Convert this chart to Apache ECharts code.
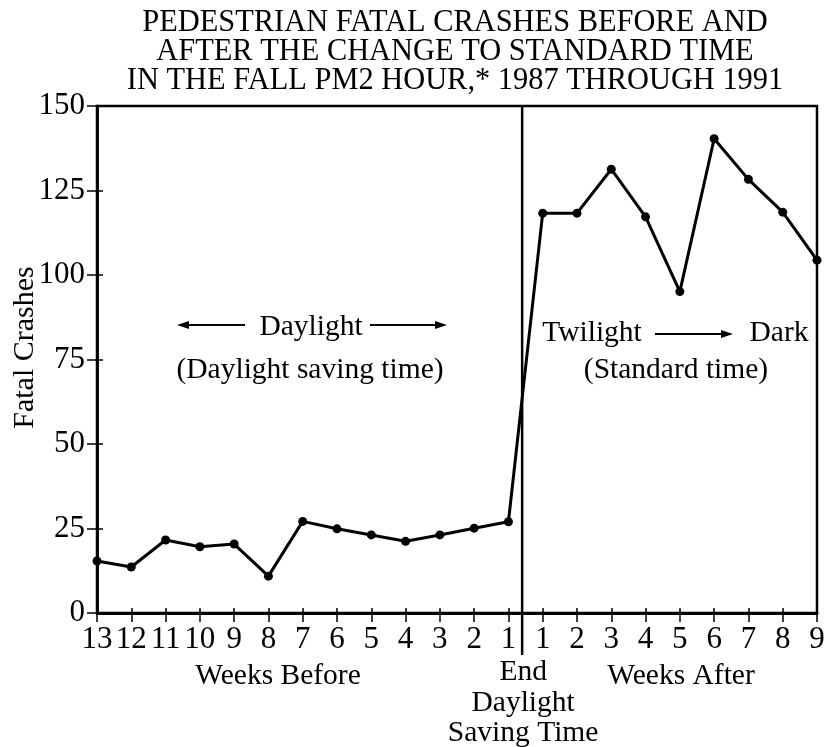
<!DOCTYPE html>
<html>
<head>
<meta charset="utf-8">
<script src="https://cdn.jsdelivr.net/npm/echarts@6/dist/echarts.min.js"></script>
<style>
html,body{margin:0;padding:0;background:#fff;}
#chart{width:825px;height:747px;}
</style>
</head>
<body>
<div id="chart"></div>
<script>
// ---- data ----
const titleLines = [
  'PEDESTRIAN FATAL CRASHES BEFORE AND',
  'AFTER THE CHANGE TO STANDARD TIME',
  'IN THE FALL PM2 HOUR,* 1987 THROUGH 1991'
];
const weekLabelsBefore = ['13','12','11','10','9','8','7','6','5','4','3','2','1'];
const weekLabelsAfter = ['1','2','3','4','5','6','7','8','9'];
const crashesBefore = [15.4,13.6,21.6,19.6,20.4,10.9,27.1,24.9,23.1,21.2,23.1,25.1,27.0];
const crashesAfter = [118.3,118.3,131.3,117.2,95.1,140.3,128.3,118.6,104.4];
const yTicks = [0,25,50,75,100,125,150];
const yAxisName = 'Fatal Crashes';

const FONT = '"Liberation Serif","DejaVu Serif",serif';
const xLabels = weekLabelsBefore.concat(weekLabelsAfter);
const values = crashesBefore.concat(crashesAfter);
const seriesData = values.map((v, i) => [i, v]);

const chart = echarts.init(document.getElementById('chart'), null, {renderer: 'canvas'});

const axisLine = {show: true, lineStyle: {color: '#000', width: 2.5}};
const tickStyle = {color: '#000', width: 1.5};
const baseX = {
  type: 'value', min: 0, max: xLabels.length - 1, interval: 1,
  position: 'bottom',
  axisLine: axisLine,
  splitLine: {show: false}
};
const baseY = {
  type: 'value', min: yTicks[0], max: yTicks[yTicks.length - 1], interval: 25,
  position: 'left',
  axisLine: axisLine,
  splitLine: {show: false}
};

chart.setOption({
  animation: false,
  backgroundColor: '#fff',
  grid: {left: 97, right: 8, top: 106, bottom: 134, containLabel: false, outerBoundsMode: 'none',
         show: true, borderColor: '#000', borderWidth: 2.5, backgroundColor: 'transparent'},
  xAxis: [
    Object.assign({}, baseX, {
      axisTick: {show: true, inside: false, length: 9, lineStyle: tickStyle},
      axisLabel: {
        show: true, margin: 11, color: '#000', fontFamily: FONT, fontSize: 31,
        formatter: v => xLabels[v] !== undefined ? xLabels[v] : ''
      }
    }),
    Object.assign({}, baseX, {
      axisTick: {show: true, inside: true, length: 5, lineStyle: tickStyle},
      axisLabel: {show: false}
    })
  ],
  yAxis: [
    Object.assign({}, baseY, {
      axisTick: {show: true, inside: false, length: 10, lineStyle: tickStyle},
      axisLabel: {color: '#000', fontFamily: FONT, fontSize: 31, margin: 12},
      name: yAxisName, nameLocation: 'middle', nameGap: 57, nameRotate: 90, nameMoveOverlap: false,
      nameTextStyle: {color: '#000', fontFamily: FONT, fontSize: 30, padding: [0, 0, 0, 24]}
    }),
    Object.assign({}, baseY, {
      axisTick: {show: true, inside: true, length: 6, lineStyle: tickStyle},
      axisLabel: {show: false}
    })
  ],
  series: [{
    type: 'line',
    data: seriesData,
    xAxisIndex: 0, yAxisIndex: 0,
    symbol: 'circle', symbolSize: 9,
    itemStyle: {color: '#000'},
    lineStyle: {color: '#000', width: 3},
    z: 5
  }]
});

// ---- annotations positioned from the axes ----
const px = (x, y) => chart.convertToPixel({xAxisIndex: 0, yAxisIndex: 0}, [x, y]);
const divX = px(12.4, 0)[0];
const plotTop = px(0, 150)[1];
const plotBottom = px(0, 0)[1];

function txt(text, x, y, size, sx) {
  return {type: 'text', x: x, y: y, scaleX: sx || 1,
    style: {text: text, fill: '#000', font: size + 'px ' + FONT, textAlign: 'center', textVerticalAlign: 'middle'}};
}
function arrow(x1, x2, y) {
  const dir = x2 > x1 ? 1 : -1;
  const hl = 12, hw = 4;
  return [
    {type: 'line', shape: {x1: x1, y1: y, x2: x2 - dir * hl * 0.6, y2: y}, style: {stroke: '#000', lineWidth: 2}},
    {type: 'polygon', shape: {points: [[x2, y], [x2 - dir * hl, y - hw], [x2 - dir * hl, y + hw]]}, style: {fill: '#000'}}
  ];
}

const titleX = 455, TS = 32, TSX = 0.95;
const AS = 29.5;
const g = [
  txt(titleLines[0], titleX, 23, TS, TSX),
  txt(titleLines[1], titleX, 52, TS, TSX),
  txt(titleLines[2], titleX, 81, TS, TSX),
  {type: 'line', shape: {x1: divX, y1: plotTop, x2: divX, y2: plotBottom + 42}, style: {stroke: '#000', lineWidth: 2.5}, z: 10},
  txt('Daylight', 311, 327, AS),
  txt('(Daylight saving time)', 310, 370, AS),
  txt('Twilight', 592, 333, AS),
  txt('Dark', 779, 333, AS),
  txt('(Standard time)', 676, 370, AS),
  txt('Weeks Before', 278, 676, AS),
  txt('Weeks After', 681, 676, AS),
  txt('End', divX + 1, 672, AS),
  txt('Daylight', divX + 1, 703, AS),
  txt('Saving Time', divX + 1, 733, AS)
].concat(arrow(245, 177, 325), arrow(370, 447, 325), arrow(655, 733, 334));

chart.setOption({graphic: g});
</script>
</body>
</html>
